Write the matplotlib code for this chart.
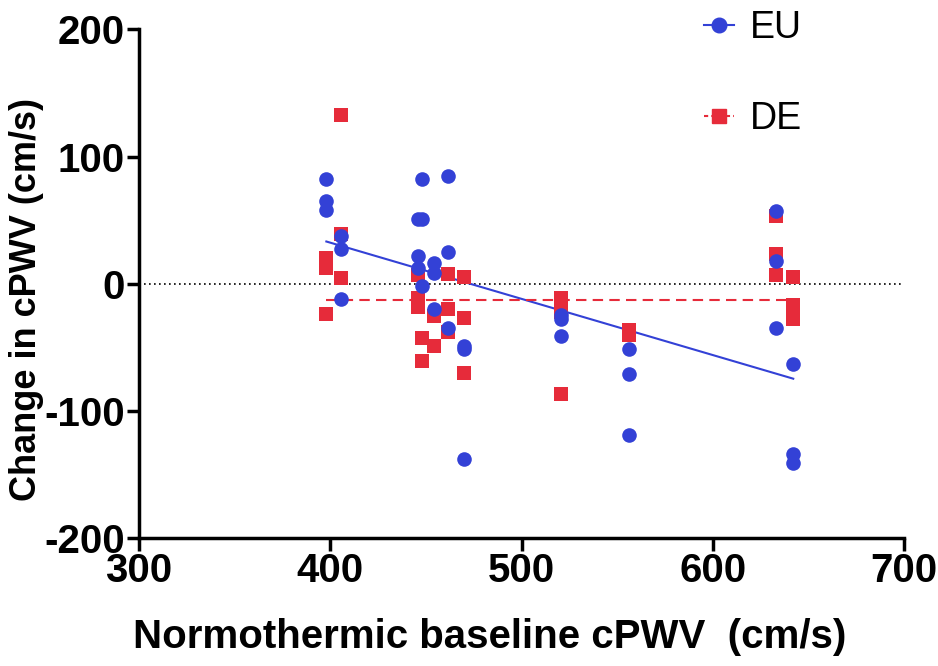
import numpy as np
import matplotlib
matplotlib.use('Agg')
import matplotlib.pyplot as plt

plt.rcParams['font.family'] = ['Liberation Sans', 'DejaVu Sans']
plt.rcParams['axes.unicode_minus'] = False

# EU group: baseline cPWV and change (cm/s)
eu_x = [398, 398, 398, 405.5, 405.5, 405.5,
        446, 446, 446, 448, 448, 448,
        454, 454, 454, 461.5, 461.5, 461.5,
        470, 470, 470, 520.5, 520.5, 520.5,
        556, 556, 556, 633, 633, 633, 642, 642, 642]
eu_y = [82.5, 65, 58, 37.5, 27.5, -12,
        51, 22, 12, 82, 51, -1.5,
        16, 8.5, -20, 85, 25, -35,
        -49, -51, -138, -24.5, -28, -41,
        -51, -71, -119, 57, 17.5, -35, -63.5, -134, -141]

# DE group
de_x = [398, 398, 398, 405.5, 405.5, 405.5,
        446, 446, 446, 448, 448,
        454, 454, 461.5, 461.5, 461.5,
        470, 470, 470, 520.5, 520.5, 520.5,
        556, 556, 633, 633, 633, 642, 642, 642]
de_y = [20, 12.5, -23.5, 133, 39, 4.5,
        7, -11, -18, -43, -61,
        -25, -49, 8, -20, -38,
        5, -27, -70, -11, -22, -87,
        -36, -40, 53, 23, 7, 5, -16.5, -27.5]

# linear fits (slope, intercept) as shown in the figure
eu_fit = (-0.442, 209.1)
de_fit = (0.0, -12.5)

BLUE = '#3341d6'
RED = '#e62b3a'

fig = plt.figure(figsize=(9.38, 6.66), dpi=100)
ax = fig.add_axes([0.148, 0.192, 0.816, 0.764])

# zero reference line
ax.axhline(0, color='black', lw=1.2, ls=(0, (1, 2)), zorder=1)

fx = np.array([min(eu_x), max(eu_x)])
ax.plot(fx, eu_fit[0] * fx + eu_fit[1], color=BLUE, lw=1.5, zorder=2)
fx = np.array([min(de_x), max(de_x)])
ax.plot(fx, de_fit[0] * fx + de_fit[1], color=RED, lw=1.5, ls=(0, (5, 3)), zorder=2)

ax.plot(de_x, de_y, 's', color=RED, ms=9.5, mew=0, zorder=3)
ax.plot(eu_x, eu_y, 'o', color=BLUE, ms=10.5, mew=0, zorder=4)

ax.set_xlim(300, 700)
ax.set_ylim(-200, 200)
ax.set_xticks([300, 400, 500, 600, 700])
ax.set_yticks([-200, -100, 0, 100, 200])
for s in ['top', 'right']:
    ax.spines[s].set_visible(False)
for s in ['left', 'bottom']:
    ax.spines[s].set_linewidth(2.5)
ax.tick_params(width=2.5, length=9, labelsize=29, pad=1)
for lab in ax.get_xticklabels() + ax.get_yticklabels():
    lab.set_fontweight('bold')

ax.set_xlabel('Normothermic baseline cPWV  (cm/s)', fontsize=29, fontweight='bold')
ax.set_ylabel('Change in cPWV (cm/s)', fontsize=26, fontweight='bold')
ax.xaxis.set_label_coords(0.459, -0.195)
ax.yaxis.set_label_coords(-0.147, 0.468)
ax.xaxis.label.set_va('center')
ax.yaxis.label.set_va('center')

# legend handles
h1, = ax.plot([], [], '-o', color=BLUE, ms=10.5, lw=1.5)
h2, = ax.plot([], [], '--s', color=RED, ms=9.5, lw=1.5, dashes=(2, 1.5))
fig.legend([h1, h2], ['EU', 'DE'], loc='upper left', bbox_to_anchor=(0.715, 1.035),
           frameon=False, fontsize=27, handlelength=0.8, labelspacing=1.45,
           handletextpad=0.4)

fig.savefig('out.png', dpi=100)
